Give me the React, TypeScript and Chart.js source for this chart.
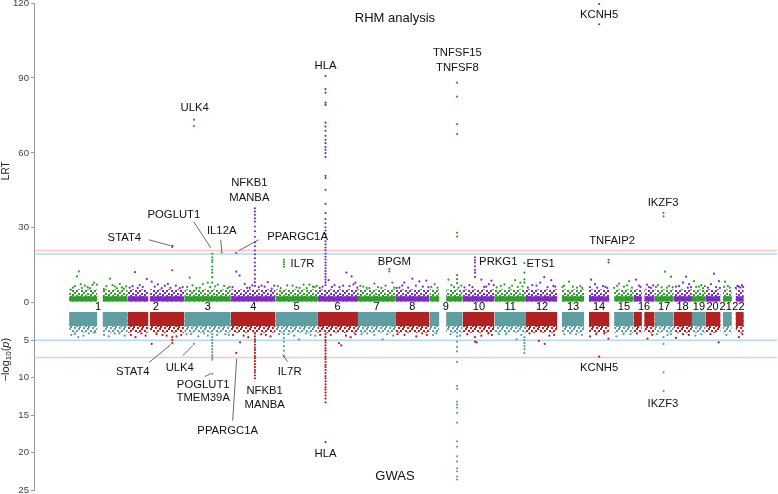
import React, { useEffect, useRef } from 'react';
import { Chart, registerables } from 'chart.js';
Chart.register(...registerables);

// chromosome lengths (Mb)
const chrLen = [249.25, 243.2, 198.0, 191.15, 180.9, 171.1, 159.1, 146.4, 141.2, 135.5, 135.0, 133.9, 115.2, 107.3, 102.5, 90.4, 81.2, 78.1, 59.1, 63.0, 48.1, 51.3];
// where each chromosome number is printed (Mb within chromosome)
const chrLabelPos = [124, 121, 100, 97, 90, 84, 79, 73, 70, 70, 68, 69, 67, 63, 62, 45, 40, 38, 30, 29, 22, 28];
// SNP-covered segments [chr, start, end]
const segments = [
  [1, 0.8, 121], [1, 143.5, 249], [2, 0.1, 90], [2, 96, 243], [3, 0.1, 198], [4, 0.1, 191], [5, 0.1, 181],
  [6, 0.2, 171], [7, 0.1, 159], [8, 0.2, 146], [9, 0.2, 42], [9, 71, 141], [10, 0.1, 135.5], [11, 0.2, 135],
  [12, 0.1, 133.8], [13, 19, 115], [14, 19.5, 107], [15, 20, 102.5], [16, 0.1, 36], [16, 46, 90.2], [17, 0.1, 81],
  [18, 0.1, 78], [19, 0.2, 59], [20, 0.1, 63], [21, 10, 48], [22, 16, 51],
];
// dense band levels
const rhmBandBase = 0.5;
const rhmBandSolid = 2.6;
const rhmBandLight = 5.4;
const gwasBandBase = 1.25;
const gwasBandSolid = 3.1;
const gwasBandLight = 4.0;

// RHM analysis (LRT) background points [chr, pos, LRT]
const rhmScatter = [
  [1, 8, 5.2], [1, 17, 6], [1, 26, 6.6], [1, 34, 10.5], [1, 42, 12.5], [1, 50, 7.4], [1, 55, 5.9], [1, 68, 6.8], [1, 80, 6.2], [1, 90, 5.8], [1, 100, 7.1], [1, 107, 8], [1, 119, 7.2], [1, 149, 5.5], [1, 160, 6.6], [1, 175, 9.6], [1, 186, 7], [1, 196, 6.5], [1, 205, 5.8], [1, 217, 7.5], [1, 226, 6.1], [1, 234, 5.6], [1, 244, 6.5],
  [2, 10, 6], [2, 22, 6.6], [2, 32, 12.2], [2, 44, 5.9], [2, 53, 7], [2, 66, 6.3], [2, 83, 9.5], [2, 104, 8.4], [2, 117, 6.4], [2, 130, 7.3], [2, 147, 5.8], [2, 160, 6.7], [2, 173, 7.5], [2, 184, 5.9], [2, 207, 6.8], [2, 224, 5.8], [2, 236, 6.2],
  [3, 12, 6.3], [3, 23, 10], [3, 35, 6.9], [3, 52, 5.9], [3, 66, 6], [3, 79, 7.4], [3, 100, 8], [3, 110, 6.2], [3, 132, 6.5], [3, 143, 7.2], [3, 170, 6.7], [3, 185, 5.8], [3, 193, 6.3],
  [4, 8, 6.2], [4, 38, 10.8], [4, 60, 7.5], [4, 70, 5.9], [4, 81, 6], [4, 92, 6.9], [4, 120, 6.2], [4, 132, 6.8], [4, 145, 6.4], [4, 158, 8.2], [4, 175, 5.6], [4, 186, 6.8],
  [5, 10, 6.6], [5, 22, 5.8], [5, 50, 6.9], [5, 73, 6.8], [5, 90, 6.1], [5, 103, 5.9], [5, 120, 7.2], [5, 133, 5.8], [5, 145, 7.2], [5, 160, 6.4], [5, 167, 6.2], [5, 176, 6.7],
  [6, 8, 5.9], [6, 20, 6.4], [6, 46, 9], [6, 60, 6.3], [6, 71, 7], [6, 92, 6.2], [6, 108, 6.8], [6, 122, 12], [6, 135, 6.6], [6, 144, 10.5], [6, 152, 7.3], [6, 160, 8], [6, 168, 6],
  [7, 10, 6.7], [7, 23, 6.4], [7, 37, 5.9], [7, 49, 5.8], [7, 70, 7.6], [7, 86, 6.2], [7, 100, 5.9], [7, 118, 6.8], [7, 147, 8], [7, 155, 6],
  [8, 6, 5.9], [8, 18, 6], [8, 30, 6.8], [8, 39, 8], [8, 55, 6], [8, 73, 9.6], [8, 88, 6.8], [8, 103, 8.5], [8, 118, 6.4], [8, 133, 8.8], [8, 142, 6.2],
  [9, 8, 6.3], [9, 22, 7.4], [9, 34, 6], [9, 81, 9.2], [9, 94, 7], [9, 105, 6.2], [9, 124, 6], [9, 136, 6.8],
  [10, 8, 6.1], [10, 29, 7], [10, 42, 6.2], [10, 80, 9.2], [10, 92, 6.3], [10, 101, 6.4], [10, 112, 7.4], [10, 123, 8.8], [10, 133, 7],
  [11, 10, 6.1], [11, 28, 6.7], [11, 43, 7.3], [11, 64, 5.9], [11, 76, 6.8], [11, 89, 9], [11, 100, 6.3], [11, 111, 8], [11, 120, 6.5],
  [12, 8, 6], [12, 27, 7], [12, 45, 6.8], [12, 61, 8], [12, 78, 10.2], [12, 92, 6.2], [12, 108, 9], [12, 117, 6.7], [12, 125, 6.4],
  [13, 22, 6.3], [13, 29, 6.8], [13, 50, 8.4], [13, 66, 6.4], [13, 84, 6], [13, 98, 6.6], [13, 106, 5.9],
  [14, 24, 6.2], [14, 29, 9.2], [14, 46, 7.4], [14, 55, 6], [14, 80, 6.6], [14, 90, 6.3], [14, 98, 5.9],
  [15, 20, 5.9], [15, 33, 6.7], [15, 41, 7.6], [15, 62, 6.4], [15, 75, 6.9], [15, 84, 8.6], [15, 96, 6],
  [16, 11, 9.2], [16, 24, 6.8], [16, 30, 6.3], [16, 58, 7.2], [16, 66, 6.2], [16, 75, 5.9], [16, 84, 6.9],
  [17, 6, 6.3], [17, 14, 7], [17, 30, 6.1], [17, 44, 12.4], [17, 53, 6], [17, 62, 6.7], [17, 70, 10.4], [17, 77, 6.2],
  [18, 10, 6.4], [18, 23, 6.6], [18, 40, 8], [18, 53, 10.4], [18, 60, 6], [18, 66, 7.4], [18, 74, 6.2],
  [19, 9, 8.6], [19, 18, 6.3], [19, 30, 6.4], [19, 40, 7], [19, 47, 5.8], [19, 55, 6.6],
  [20, 9, 6], [20, 22, 7.4], [20, 35, 11.6], [20, 44, 6.2], [20, 56, 8.6], [20, 60, 5.9],
  [21, 15, 6.3], [21, 19, 8.4], [21, 31, 6.6], [21, 40, 6],
  [22, 17, 5.9], [22, 24, 6.7], [22, 30, 6.4], [22, 37, 6], [22, 43, 7], [22, 48, 6.3],
];

// RHM analysis peak loci: [chr, pos, LRT values]
const rhmPeaks = [
  [2, 191.9, [22.8, 22.3, 13]],
  [3, 41.3, [73.3, 70.7]],
  [3, 119.2, [19.6, 18.2, 17.2, 16.3, 14.5, 13.2, 12, 10.2, 8]],
  [3, 159.7, [20.2]],
  [4, 23.8, [19.9, 12.4]],
  [4, 103.4, [37.8, 36.5, 35.2, 33.8, 32.5, 30.5, 28.6, 26.4, 24.2, 22.6, 20.9, 19.4, 17.8, 16.1, 14.6, 13, 11.3, 9.6, 8.2, 6.7]],
  [5, 35.9, [17.2, 16.3, 15.4, 14.4]],
  [6, 32.6, [90.8, 85.5, 84.1, 80.1, 79.2, 72.1, 70.5, 68.8, 66.8, 65.2, 63.9, 62.3, 61.2, 59.9, 58.3, 50.8, 49.9, 45.2, 39.6, 35.9, 33.5, 31.8, 30.2, 28.9, 27.5, 26.2, 24.6, 23.4, 22.1, 21, 19.7, 18.4, 17.3, 16.1, 15, 13.8, 12.6, 11.5, 10.3, 9.2, 8.1, 7]],
  [7, 134.2, [13.5, 12.5]],
  [9, 117.6, [88.1, 82.5, 71.5, 67.5, 28, 26.5, 11, 9.4, 7.8]],
  [10, 53, [18.2, 17.1, 16.1, 14.6, 13.1, 12, 10.3]],
  [11, 128.3, [15.9, 12, 9.3, 8]],
  [14, 63.4, [119.6, 111.5]],
  [14, 103.6, [17.2, 16.1]],
  [17, 37.9, [36, 34.6]],
];

// GWAS background points [chr, pos, -log10 p]
const gwasScatter = [
  [1, 10, 4.3], [1, 25, 4.2], [1, 40, 4.6], [1, 62, 4.4], [1, 85, 4.1], [1, 110, 4], [1, 150, 4.3], [1, 170, 4.5], [1, 195, 4.1], [1, 215, 4.1], [1, 238, 4.4],
  [2, 15, 4.3], [2, 35, 4.6], [2, 60, 4.1], [2, 78, 4.4], [2, 104, 5.5], [2, 125, 4.2], [2, 150, 4.3], [2, 168, 4.4], [2, 210, 4.5], [2, 230, 4.3],
  [3, 10, 4.2], [3, 28, 4.2], [3, 60, 4.5], [3, 85, 4.1], [3, 100, 4.4], [3, 140, 4.3], [3, 175, 4.2], [3, 190, 4.3],
  [4, 10, 4.3], [4, 40, 5.3], [4, 55, 4.4], [4, 75, 4.6], [4, 130, 4.2], [4, 150, 4.3], [4, 170, 4.5],
  [5, 15, 4.2], [5, 55, 4.2], [5, 80, 4.4], [5, 100, 4.9], [5, 130, 4.1], [5, 150, 4.3], [5, 170, 4.4],
  [6, 10, 4.3], [6, 55, 4.3], [6, 90, 5.4], [6, 100, 5.7], [6, 120, 4.4], [6, 140, 4.6], [6, 160, 4.2],
  [7, 15, 4.2], [7, 40, 4.1], [7, 70, 4.3], [7, 105, 4.9], [7, 125, 4.2], [7, 150, 4.4],
  [8, 10, 4.2], [8, 40, 4.3], [8, 90, 4.5], [8, 115, 4.1], [8, 135, 4.3],
  [9, 15, 4.3], [9, 30, 4.1], [9, 90, 4.2], [9, 130, 4.4],
  [10, 20, 4.2], [10, 60, 5.3], [10, 80, 4.4], [10, 110, 4.1], [10, 125, 4.3],
  [11, 20, 4.2], [11, 50, 4.2], [11, 95, 4.9], [11, 115, 4.3],
  [12, 15, 4.1], [12, 55, 5.1], [12, 80, 5.5], [12, 100, 4.4], [12, 120, 4.3],
  [13, 30, 4.2], [13, 55, 4.1], [13, 80, 4.2], [13, 105, 4.3],
  [14, 25, 4.5], [14, 50, 4.2], [14, 85, 4.1], [14, 103, 4.8],
  [15, 30, 4.5], [15, 60, 4.2], [15, 90, 4.2],
  [16, 15, 4.1], [16, 60, 4.8], [16, 80, 4.3],
  [17, 10, 4.2], [17, 55, 4.3], [17, 70, 4.2],
  [18, 10, 4.7], [18, 40, 4.2], [18, 65, 4.3],
  [19, 15, 4.4], [19, 40, 4.2],
  [20, 20, 4.2], [20, 55, 5.3],
  [21, 25, 4.3],
  [22, 30, 4.6], [22, 45, 4.2],
];

// GWAS peak loci: [chr, pos, -log10 p values]
const gwasPeaks = [
  [2, 191.9, [5.4, 5, 4.6]],
  [3, 41.3, [5.5]],
  [3, 119.2, [9.5, 7.6, 7.3, 7, 6.6, 6.2, 5.8, 5.4, 5, 4.6, 4.2]],
  [4, 23.8, [6.7]],
  [4, 103.4, [10.1, 9.7, 9.3, 9, 8.6, 8.2, 7.8, 7.4, 7.1, 6.7, 6.3, 6, 5.6, 5.2, 4.9, 4.5, 4.1]],
  [5, 35.9, [7.1, 6.4, 5.8, 5.2, 4.7, 4.2]],
  [6, 32.6, [18.6, 13.3, 12.8, 12.4, 12, 11.6, 11.3, 10.9, 10.5, 10.1, 9.8, 9.4, 9, 8.6, 8.3, 7.9, 7.5, 7.2, 6.8, 6.4, 6.1, 5.7, 5.3, 5, 4.6, 4.2]],
  [9, 117.6, [23.6, 23.2, 22.5, 22.1, 21.2, 20.5, 19.2, 18.5, 16, 14.7, 14, 13.6, 13.2, 11.5, 11.1, 7.9, 6.5, 5.9, 5.2, 4.5, 4]],
  [10, 53, [5.2, 4.6]],
  [11, 128.3, [6.7, 6.2, 5.8, 5.4, 5, 4.6]],
  [14, 63.4, [7.2]],
  [17, 37.9, [11.8, 9.3, 5.5, 4.6]],
];

// threshold lines
const rhmThresholds = [20.9, 19.5];
const gwasThresholds = [7.3, 5];

// y ticks
const rhmTicks = [0, 30, 60, 90, 120];
const gwasTicks = [5, 10, 15, 20, 25];

// annotations: [text, genome position (Mb), plotted y value]
const geneLabels = [
  ['KCNH5', 2263, 115.2], ['ULK4', 537, 78], ['HLA', 1095, 94.8], ['TNFSF15', 1658, 100.2], ['TNFSF8', 1658, 94.1],
  ['IKZF3', 2536, 40], ['NFKB1', 770, 48], ['MANBA', 770, 41.8], ['POGLUT1', 448, 35.2], ['STAT4', 236.5, 26],
  ['IL12A', 652, 28.8], ['PPARGC1A', 976, 26.4], ['IL7R', 997, 15.6], ['BPGM', 1389, 16.4], ['PRKG1', 1832.6, 16.4],
  ['ETS1', 2013.7, 15.6], ['TNFAIP2', 2318.4, 24.8],
  ['STAT4', 272.8, -27.6], ['ULK4', 473, -26], ['POGLUT1', 573.2, -32.8], ['TMEM39A', 573.2, -38],
  ['PPARGC1A', 677.6, -51.2], ['NFKB1', 835.3, -35.2], ['MANBA', 835.3, -40.8], ['IL7R', 941.9, -27.6],
  ['HLA', 1095.3, -60.4], ['KCNH5', 2263, -26], ['IKZF3', 2535.8, -40.4],
];
const panelTitles = [['RHM analysis', 1391.5, 114], ['GWAS', 1391.5, -69.4]];
// leader lines [x1, y1, x2, y2] in genome Mb / plotted value
const leaderLines = [
  [341, 25.2, 434.7, 22.8], [532.7, 32.4, 605.2, 22], [647.8, 25.2, 652, 20.8], [809.7, 25.2, 724.5, 20.8],
  [341, -24, 434.7, -16.8], [485.8, -21.2, 528.5, -17.2], [579.6, -29.6, 605.2, -28.4], [698.9, -47.2, 716, -22.4], [933.3, -23.6, 912, -20.8],
];

const GWAS_SCALE = 3; // bottom panel: 1 unit of -log10 p = 3 plotted units
const chrStart: number[] = [];
chrLen.reduce((acc, l, i) => { chrStart[i] = acc; return acc + l; }, 0);
const gpos = (chr: number, pos: number) => chrStart[chr - 1] + pos;

const GREEN = '#2f9e2a';
const PURPLE = '#7d2cbf';
const TEAL = '#5f9ea0';
const RED = '#b22222';
const FONT = '"Liberation Sans", Arial, Helvetica, sans-serif';
const DOT_TILE = [[0, 0], [4, 0], [2, 2], [6, 3], [0, 4], [4, 5], [7, 6], [2, 7], [6, 8]];

function pointsFor(scatter: any[], peaks: any[], odd: boolean, sign: number) {
  const out: { x: number; y: number }[] = [];
  const keep = (c: number) => (c % 2 === 1) === odd;
  scatter.forEach(([c, p, v]) => { if (keep(c)) out.push({ x: gpos(c, p), y: sign * v }); });
  peaks.forEach(([c, p, vals]) => { if (keep(c)) vals.forEach((v: number) => out.push({ x: gpos(c, p), y: sign * v })); });
  return out;
}

function dotPattern(color: string) {
  const c = document.createElement('canvas');
  c.width = 9; c.height = 10;
  const g = c.getContext('2d')!;
  g.fillStyle = color;
  DOT_TILE.forEach(([x, y]) => g.fillRect(x, y, 2, 2));
  return g.createPattern(c, 'repeat');
}

const annotPlugin = {
  id: 'annot',
  afterDatasetsDraw(chart: any) {
    const { ctx, scales } = chart;
    const xs = scales.x, ys = scales.y;
    ctx.save();
    ctx.fillStyle = '#000';
    ctx.textAlign = 'center';
    ctx.textBaseline = 'middle';
    ctx.font = `11px ${FONT}`;
    chrLabelPos.forEach((p, i) => {
      ctx.fillText(String(i + 1), xs.getPixelForValue(gpos(i + 1, p)), ys.getPixelForValue(-1.6));
    });
    ctx.strokeStyle = '#444';
    ctx.lineWidth = 0.8;
    leaderLines.forEach(([x1, y1, x2, y2]) => {
      ctx.beginPath();
      ctx.moveTo(xs.getPixelForValue(x1), ys.getPixelForValue(y1));
      ctx.lineTo(xs.getPixelForValue(x2), ys.getPixelForValue(y2));
      ctx.stroke();
    });
    ctx.fillStyle = '#111';
    ctx.font = `11.3px ${FONT}`;
    geneLabels.forEach(([t, gx, v]) => {
      ctx.fillText(t as string, xs.getPixelForValue(gx as number), ys.getPixelForValue(v as number));
    });
    ctx.font = `13px ${FONT}`;
    panelTitles.forEach(([t, gx, v]) => {
      ctx.fillText(t as string, xs.getPixelForValue(gx as number), ys.getPixelForValue(v as number));
    });
    // axis titles
    const tx = chart.chartArea.left - 28;
    ctx.fillStyle = '#222';
    ctx.font = `10px ${FONT}`;
    ctx.save();
    ctx.translate(tx, ys.getPixelForValue(52.8));
    ctx.rotate(-Math.PI / 2);
    ctx.fillText('LRT', 0, 0);
    ctx.restore();
    ctx.save();
    ctx.translate(tx, ys.getPixelForValue(-22.8));
    ctx.rotate(-Math.PI / 2);
    const parts = [
      ['\u2212log', `11px ${FONT}`, 0],
      ['10', `8px ${FONT}`, 3],
      ['(', `11px ${FONT}`, 0],
      ['p', `italic 11px ${FONT}`, 0],
      [')', `11px ${FONT}`, 0],
    ];
    let total = 0;
    const widths = parts.map(([t, f]) => { ctx.font = f as string; const w = ctx.measureText(t as string).width; total += w; return w; });
    let cx = -total / 2;
    ctx.textAlign = 'left';
    parts.forEach(([t, f, dy], i) => {
      ctx.font = f as string;
      ctx.fillText(t as string, cx, dy as number);
      cx += widths[i];
    });
    ctx.restore();
    ctx.restore();
  },
};

export default function App() {
  const ref = useRef<HTMLCanvasElement>(null);
  useEffect(() => {
    if (!ref.current) return;
    const xMin = -149.2, xMax = 3022;
    const datasets: any[] = [];
    const hline = (v: number, color: string) => ({
      type: 'line', data: [{ x: xMin, y: v }, { x: xMax, y: v }], borderColor: color, borderWidth: 1.5,
      pointRadius: 0, showLine: true, fill: false, order: 20,
    });
    datasets.push(hline(rhmThresholds[0], 'rgba(240,150,150,0.55)'));
    datasets.push(hline(rhmThresholds[1], 'rgba(120,185,235,0.55)'));
    datasets.push(hline(-GWAS_SCALE * gwasThresholds[0], 'rgba(240,150,150,0.55)'));
    datasets.push(hline(-GWAS_SCALE * gwasThresholds[1], 'rgba(120,185,235,0.55)'));
    const band = (c: number, s: number, e: number, top: number, base: number, color: any, order: number) => ({
      type: 'line', data: [{ x: gpos(c, s), y: top }, { x: gpos(c, e), y: top }], borderWidth: 0, borderColor: 'rgba(0,0,0,0)',
      backgroundColor: color, fill: { value: base }, pointRadius: 0, showLine: true, order,
    });
    const pat: Record<string, any> = {
      [GREEN]: dotPattern(GREEN), [PURPLE]: dotPattern(PURPLE), [TEAL]: dotPattern(TEAL), [RED]: dotPattern(RED),
    };
    segments.forEach(([c, s, e]) => {
      const odd = c % 2 === 1;
      const tc = odd ? GREEN : PURPLE;
      const bc = odd ? TEAL : RED;
      datasets.push(band(c, s, e, rhmBandLight, rhmBandBase, pat[tc], 12));
      datasets.push(band(c, s, e, rhmBandSolid, rhmBandBase, tc, 11));
      datasets.push(band(c, s, e, -GWAS_SCALE * gwasBandLight, -GWAS_SCALE * gwasBandBase, pat[bc], 12));
      datasets.push(band(c, s, e, -GWAS_SCALE * gwasBandSolid, -GWAS_SCALE * gwasBandBase, bc, 11));
    });
    const pts = (data: any[], color: string) => ({
      type: 'scatter', data, backgroundColor: color, borderWidth: 0, pointRadius: 1.1, pointHoverRadius: 1.1, order: 1,
    });
    datasets.push(pts(pointsFor(rhmScatter, rhmPeaks, true, 1), GREEN));
    datasets.push(pts(pointsFor(rhmScatter, rhmPeaks, false, 1), PURPLE));
    datasets.push(pts(pointsFor(gwasScatter, gwasPeaks, true, -GWAS_SCALE), TEAL));
    datasets.push(pts(pointsFor(gwasScatter, gwasPeaks, false, -GWAS_SCALE), RED));

    const yTicks = [...rhmTicks.map(v => v), ...gwasTicks.map(v => -GWAS_SCALE * v)];
    const chart = new Chart(ref.current, {
      type: 'scatter',
      data: { datasets },
      plugins: [annotPlugin],
      options: {
        animation: false,
        responsive: false,
        devicePixelRatio: 1,
        layout: { padding: { top: 3, bottom: 4, left: 0, right: 0 } },
        plugins: { legend: { display: false }, tooltip: { enabled: false } },
        events: [],
        scales: {
          x: { type: 'linear', min: xMin, max: xMax, display: false },
          y: {
            type: 'linear', min: -75, max: 120,
            afterBuildTicks: (s: any) => { s.ticks = yTicks.map(v => ({ value: v })); },
            afterFit: (s: any) => { s.width = 34; s.paddingTop = 0; s.paddingBottom = 0; },
            ticks: {
              autoSkip: false, padding: 2, color: '#444',
              font: { family: FONT, size: 9.6 },
              callback: (v: any) => String(v >= 0 ? v : Math.round(-v / GWAS_SCALE)),
            },
            grid: { drawOnChartArea: false, tickLength: 3, color: '#999' },
            border: { color: '#999', width: 1 },
          },
        },
      } as any,
    });
    return () => chart.destroy();
  }, []);
  return (
    <div style={{ position: 'absolute', left: 0, top: 0, width: 778, height: 494, background: '#fff' }}>
      <canvas ref={ref} width={778} height={494} style={{ display: 'block' }} />
    </div>
  );
}
